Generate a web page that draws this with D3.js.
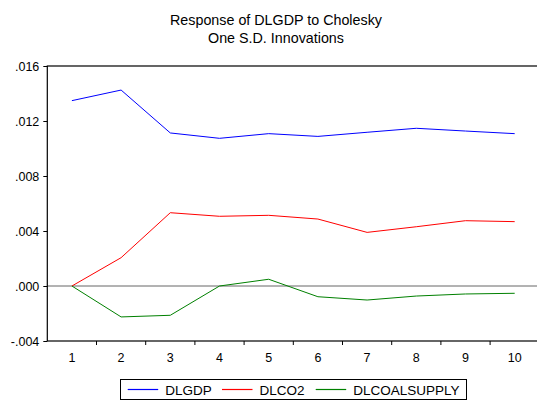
<!DOCTYPE html>
<html><head><meta charset="utf-8">
<script src="https://cdn.jsdelivr.net/npm/d3@7"></script>
<style>body{margin:0;background:#fff;} svg{display:block;font-family:"Liberation Sans",Arial,sans-serif;}</style>
</head><body>
<svg id="c" width="537" height="400"></svg>
<script>
const periods = [1,2,3,4,5,6,7,8,9,10];
const dlgdp = [0.01348,0.01425,0.01113,0.01074,0.01108,0.01088,0.01118,0.01147,0.01127,0.01108];
const dlco2 = [0.0,0.00206,0.00533,0.00507,0.00514,0.00487,0.0039,0.00431,0.00475,0.00468];
const dlcoal = [0.0,-0.00225,-0.00213,0.0,0.00049,-0.00078,-0.00102,-0.00073,-0.00058,-0.00053];
const yTicks = [-0.004,0.000,0.004,0.008,0.012,0.016];
const yTickLabels = ["-.004",".000",".004",".008",".012",".016"];
const seriesNames = ["DLGDP","DLCO2","DLCOALSUPPLY"];
const seriesColors = ["#0000ff","#ff0000","#008000"];
const seriesData = [dlgdp, dlco2, dlcoal];

const svg = d3.select("#c");
const L=47.3, R=539.3, T=66, B=341;
const x = d3.scaleBand().domain(periods).range([L,R]);
const y = d3.scaleLinear().domain([-0.004,0.016]).range([B,T]);

svg.append("text").attr("x",276).attr("y",25).attr("text-anchor","middle").attr("font-size",14.3).text("Response of DLGDP to Cholesky");
svg.append("text").attr("x",276).attr("y",43).attr("text-anchor","middle").attr("font-size",14.3).text("One S.D. Innovations");

// zero line
svg.append("line").attr("x1",L).attr("x2",R).attr("y1",y(0)).attr("y2",y(0)).attr("stroke","#666").attr("stroke-width",1);

// lines
const line = d3.line().x((d,i)=>x(periods[i])+x.bandwidth()/2).y(d=>y(d));
seriesData.forEach((s,k)=>{
  svg.append("path").datum(s).attr("d",line).attr("fill","none").attr("stroke",seriesColors[k]).attr("stroke-width",1);
});

// frame
svg.append("rect").attr("x",L).attr("y",T).attr("width",R-L).attr("height",B-T).attr("fill","none").attr("stroke","#000").attr("stroke-width",1.2);

// y axis
const ya = svg.append("g").attr("transform",`translate(${L},0)`)
  .call(d3.axisLeft(y).tickValues(yTicks).tickFormat((d,i)=>yTickLabels[i]).tickSize(4).tickPadding(4));
ya.select(".domain").remove();
ya.selectAll("text").attr("font-size",12.5).attr("font-family","Liberation Sans, Arial, sans-serif").attr("fill","#000");
ya.selectAll("line").attr("stroke","#000");

// x axis: ticks at band boundaries, labels at band centers
const xa = svg.append("g").attr("transform",`translate(0,${B})`);
const bounds = periods.map(p=>x(p)).slice(1);
xa.selectAll("line.t").data(bounds).join("line").attr("x1",d=>d).attr("x2",d=>d).attr("y1",0).attr("y2",4).attr("stroke","#000");
xa.selectAll("text").data(periods).join("text").attr("x",d=>x(d)+x.bandwidth()/2).attr("y",21).attr("text-anchor","middle").attr("font-size",12.5).text(d=>d);

// legend
const lg = svg.append("g");
lg.append("rect").attr("x",120.5).attr("y",379.5).attr("width",346).attr("height",20).attr("fill","#fff").attr("stroke","#000").attr("stroke-width",1);
const lx = [127.7,222,315.7];
seriesNames.forEach((n,k)=>{
  lg.append("line").attr("x1",lx[k]).attr("x2",lx[k]+30.5).attr("y1",389.5).attr("y2",389.5).style("stroke",seriesColors[k]).attr("stroke-width",1.2);
  lg.append("text").attr("x",lx[k]+37.5).attr("y",394.5).attr("font-size",13.5).text(n);
});
</script>
</body></html>
